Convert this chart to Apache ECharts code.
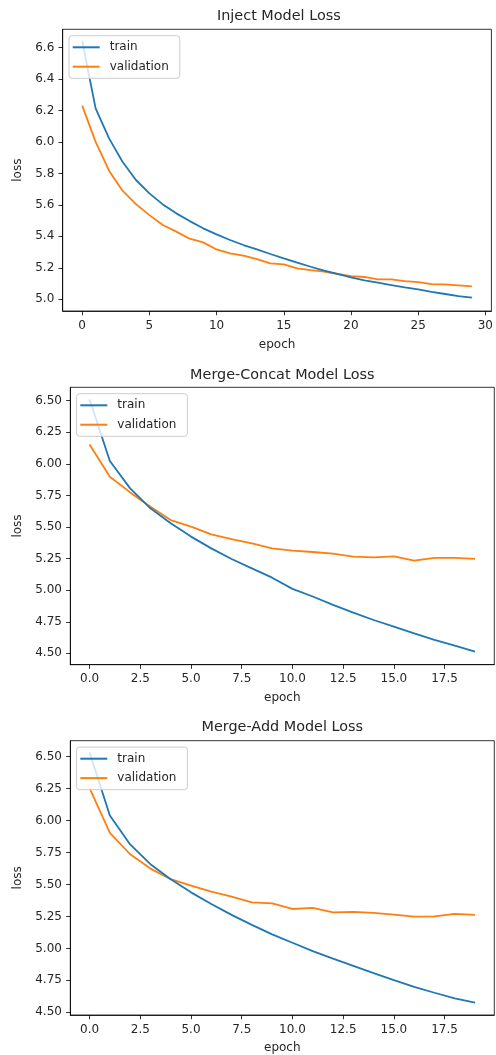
<!DOCTYPE html>
<html><head><meta charset="utf-8">
<script src="https://cdn.jsdelivr.net/npm/echarts@6/dist/echarts.min.js"></script>
<style>html,body{margin:0;padding:0;background:#fff}#c{width:496px;height:1055px}</style>
</head><body><div id="c"></div>
<script>
const titles = ['Inject Model Loss', 'Merge-Concat Model Loss', 'Merge-Add Model Loss'];
const injectTrain = [6.64,6.213,6.022,5.874,5.758,5.673,5.603,5.546,5.497,5.451,5.413,5.377,5.345,5.317,5.288,5.260,5.233,5.207,5.182,5.161,5.140,5.121,5.106,5.091,5.076,5.063,5.047,5.034,5.021,5.011];
const injectVal = [6.23,6.00,5.817,5.69,5.605,5.535,5.472,5.43,5.385,5.362,5.317,5.292,5.277,5.256,5.229,5.222,5.197,5.186,5.176,5.161,5.148,5.142,5.127,5.127,5.116,5.11,5.097,5.095,5.089,5.083];
const concatTrain = [6.51,6.022,5.806,5.648,5.529,5.424,5.331,5.247,5.173,5.099,5.01,4.95,4.883,4.822,4.764,4.711,4.658,4.606,4.561,4.513];
const concatVal = [6.154,5.898,5.774,5.661,5.555,5.503,5.442,5.405,5.371,5.331,5.313,5.302,5.289,5.265,5.26,5.268,5.234,5.255,5.255,5.247];
const addTrain = [6.531,6.039,5.813,5.658,5.541,5.438,5.347,5.262,5.184,5.109,5.044,4.979,4.92,4.863,4.806,4.751,4.699,4.653,4.609,4.575];
const addVal = [6.254,5.904,5.736,5.624,5.541,5.49,5.443,5.404,5.36,5.352,5.308,5.316,5.282,5.285,5.277,5.264,5.249,5.251,5.269,5.262];
const xTicks1 = [0,5,10,15,20,25,30];
const yTicks1 = [5.0,5.2,5.4,5.6,5.8,6.0,6.2,6.4,6.6];
const xTicks2 = [0,2.5,5,7.5,10,12.5,15,17.5];
const yTicks2 = [4.5,4.75,5.0,5.25,5.5,5.75,6.0,6.25,6.5];

const seriesData = [[injectTrain, injectVal],[concatTrain, concatVal],[addTrain, addVal]];
const layout = [
  {left:62.7, top:29.3, width:432.3, height:281.7, xmin:-1.45, xmax:30.45, ymin:4.926, ymax:6.715, xt:xTicks1, yt:yTicks1, xd:0, yd:1, titleY:16, nameGapY:32, nameGapX:28},
  {left:70.3, top:387.3, width:424, height:277.4, xmin:-0.95, xmax:19.95, ymin:4.41, ymax:6.606, xt:xTicks2, yt:yTicks2, xd:1, yd:2, titleY:375, nameGapY:40, nameGapX:27.6},
  {left:70.3, top:740.7, width:424, height:276, xmin:-0.95, xmax:19.95, ymin:4.479, ymax:6.624, xt:xTicks2, yt:yTicks2, xd:1, yd:2, titleY:727, nameGapY:40, nameGapX:27}
];
const C1 = '#1f77b4', C2 = '#ff7f0e';
const font = 'DejaVu Sans';
const TXT = '#262626';
const grids=[], xAxes=[], yAxes=[], series=[], legends=[], graphics=[];
layout.forEach((L,i)=>{
  grids.push({left:L.left, top:L.top, width:L.width, height:L.height, show:true, borderColor:'#000', borderWidth:0.8, backgroundColor:'#fff'});
  xAxes.push({type:'value', gridIndex:i, min:L.xmin, max:L.xmax,
    name:'epoch', nameLocation:'middle', nameGap:L.nameGapX, nameTextStyle:{fontFamily:font, fontSize:12, color:TXT},
    axisLine:{show:true, onZero:false, lineStyle:{color:'#000', width:0.8}},
    axisTick:{show:true, length:4.2, lineStyle:{color:'#000', width:0.8}, customValues:L.xt},
    axisLabel:{fontFamily:font, fontSize:12, color:TXT, margin:8.4, customValues:L.xt, formatter:v=>(+v).toFixed(L.xd)},
    splitLine:{show:false}});
  yAxes.push({type:'value', gridIndex:i, min:L.ymin, max:L.ymax,
    name:'loss', nameLocation:'middle', nameGap:L.nameGapY, nameRotate:90, nameTextStyle:{fontFamily:font, fontSize:12, color:TXT},
    axisLine:{show:true, onZero:false, lineStyle:{color:'#000', width:0.8}},
    axisTick:{show:true, length:4.2, lineStyle:{color:'#000', width:0.8}, customValues:L.yt},
    axisLabel:{fontFamily:font, fontSize:12, color:TXT, margin:8.4, customValues:L.yt, formatter:v=>(+v).toFixed(L.yd)},
    splitLine:{show:false}});
  const [tr, va] = seriesData[i];
  series.push({name:'train', type:'line', xAxisIndex:i, yAxisIndex:i, data:tr.map((v,k)=>[k,v]), symbol:'none', lineStyle:{color:C1, width:1.8}, itemStyle:{color:C1}, z:3});
  series.push({name:'validation', type:'line', xAxisIndex:i, yAxisIndex:i, data:va.map((v,k)=>[k,v]), symbol:'none', lineStyle:{color:C2, width:1.8}, itemStyle:{color:C2}, z:2});
  legends.push({orient:'vertical', left:L.left+6.3, top:L.top+6.4, data:['train','validation'], selectedMode:false,
    icon:'rect', itemWidth:27, itemHeight:2, itemGap:5.4, padding:[4.6,11,4.6,3.7],
    backgroundColor:'rgba(255,255,255,0.8)', borderColor:'#ccc', borderWidth:1, borderRadius:3,
    textStyle:{fontFamily:font, fontSize:12, color:TXT, lineHeight:14, padding:[0,0,0,5]}});
  graphics.push({type:'text', x:L.left+L.width/2, y:L.titleY, style:{text:titles[i], font:'14.4px "DejaVu Sans"', fill:TXT, textAlign:'center', textVerticalAlign:'middle'}});
});
const chart = echarts.init(document.getElementById('c'), null, {renderer:'canvas'});
chart.setOption({animation:false, backgroundColor:'#fff', grid:grids, xAxis:xAxes, yAxis:yAxes, series:series, legend:legends, graphic:graphics});
</script></body></html>
